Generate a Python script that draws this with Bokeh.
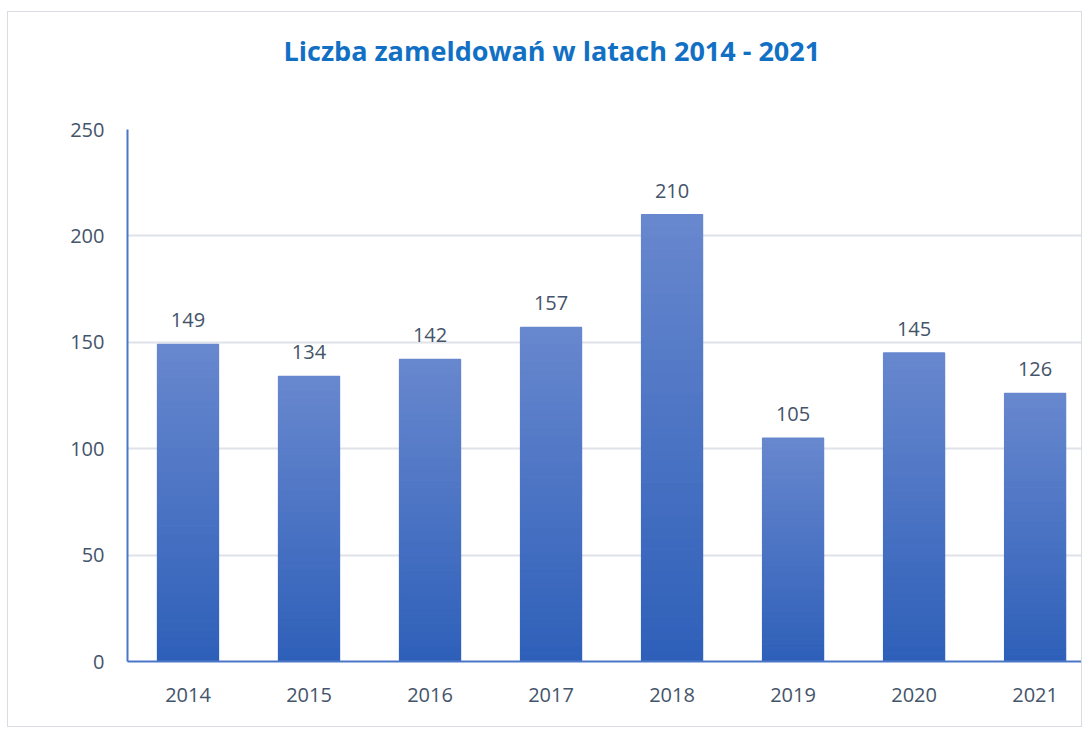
from bokeh.plotting import figure
from bokeh.models import Range1d, FixedTicker, ColumnDataSource, Title, LabelSet
from bokeh.core.properties import value
from bokeh.embed import file_html
from bokeh.resources import INLINE

years = ["2014", "2015", "2016", "2017", "2018", "2019", "2020", "2021"]
values = [149, 134, 142, 157, 210, 105, 145, 126]
y_ticks = [0, 50, 100, 150, 200, 250]

TITLE = "Liczba zameldowań w latach 2014 - 2021"
FONT = "Open Sans"
TXT = "#44546a"

p = figure(width=1075, height=716, output_backend="svg", toolbar_location=None,
           x_range=Range1d(0, 7.9), y_range=Range1d(0, 250),
           min_border_left=119, min_border_right=0, min_border_bottom=67,
           min_border_top=117, title=None)
p.outline_line_color = None
p.styles = {"border": "1px solid #d9dde3", "margin-left": "7px", "margin-top": "11px"}

# gradient bars built from slices of each value
N = 40
top_c = (0x68, 0x88, 0xce)
bot_c = (0x2e, 0x5f, 0xb9)
xs, bots, tops, cols = [], [], [], []
for i, v in enumerate(values):
    for k in range(N):
        t = (k + 0.5) / N
        c = tuple(int(round(bot_c[j] + (top_c[j] - bot_c[j]) * t)) for j in range(3))
        xs.append(i + 0.5)
        bots.append(v * k / N)
        tops.append(v * (k + 1) / N)
        cols.append("#%02x%02x%02x" % c)
src = ColumnDataSource(dict(x=xs, bottom=bots, top=tops, color=cols))
p.vbar(x="x", bottom="bottom", top="top", width=0.505, source=src,
       fill_color="color", line_color="color", line_width=1.2)

lab_src = ColumnDataSource(dict(x=[i + 0.5 for i in range(len(values))], y=values,
                                t=[str(v) for v in values]))
p.add_layout(LabelSet(x="x", y="y", text="t", source=lab_src, text_align="center",
                      text_baseline="bottom", y_offset=17, text_font=value(FONT),
                      text_font_size=value("20px"), text_color=TXT))

# axes
p.yaxis.ticker = FixedTicker(ticks=y_ticks)
p.xaxis.ticker = FixedTicker(ticks=[i + 0.5 for i in range(len(years))])
p.xaxis.major_label_overrides = {i + 0.5: y for i, y in enumerate(years)}
for ax in (p.xaxis[0], p.yaxis[0]):
    ax.axis_line_color = "#4a76c8"
    ax.axis_line_width = 2
    ax.major_tick_line_color = None
    ax.minor_tick_line_color = None
    ax.major_label_text_font = FONT
    ax.major_label_text_font_size = "20px"
    ax.major_label_text_color = TXT
p.yaxis.major_label_standoff = 17
p.xaxis.major_label_standoff = 20
p.xgrid.grid_line_color = None
p.ygrid.grid_line_color = "#dfe2e8"
p.ygrid.grid_line_width = 2

p.add_layout(Title(text=" ", text_font_size="40px"), "above")
p.add_layout(Title(text=TITLE, align="left", offset=156, text_font=FONT,
                   text_font_size="27px", text_font_style="bold",
                   text_color="#1270c4"), "above")

open("out.html", "w").write(file_html(p, INLINE))
